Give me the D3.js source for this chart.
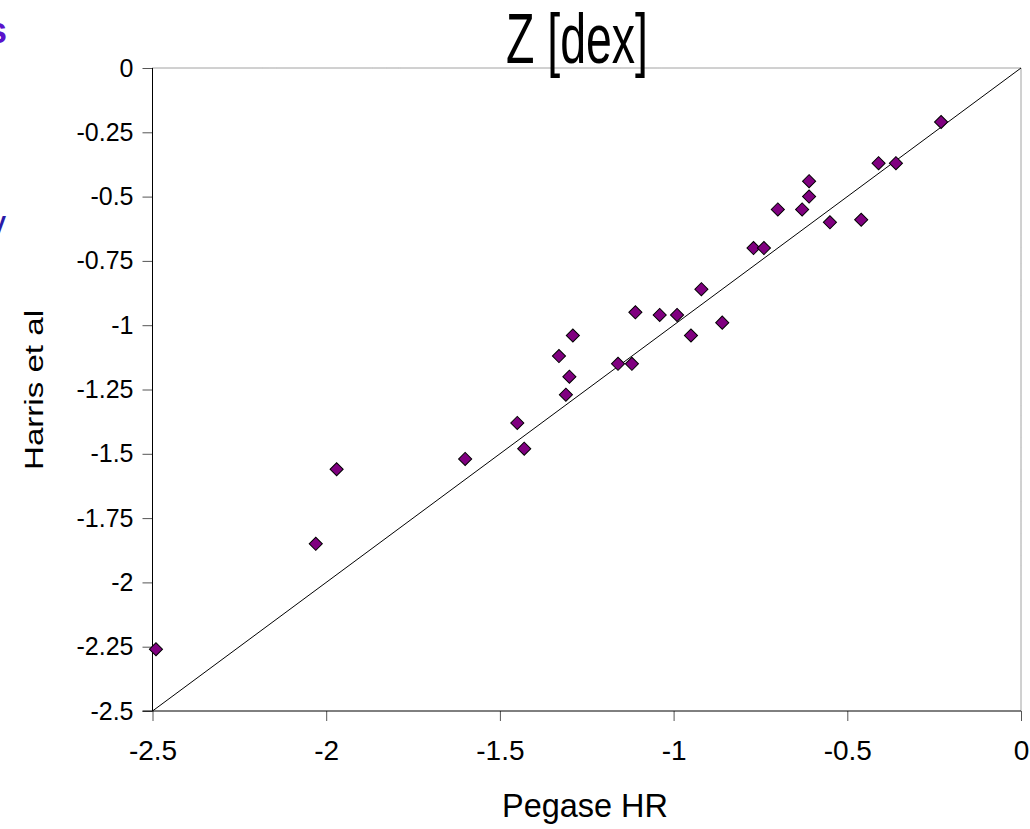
<!DOCTYPE html>
<html>
<head>
<meta charset="utf-8">
<script src="https://cdn.jsdelivr.net/npm/d3@7"></script>
<style>
  body { margin: 0; background: #fff; }
  svg { display: block; font-family: "Liberation Sans", Arial, sans-serif; }
  .axis path { display: none; }
  .axis line { stroke: #555; }
</style>
</head>
<body>
<div id="chart"></div>
<script>
// Pegase HR vs Harris et al metallicities
const pegaseHR = [-2.49, -2.03, -1.97, -1.60, -1.45, -1.43, -1.33, -1.31, -1.30, -1.29,
  -1.16, -1.12, -1.11, -1.04, -0.99, -0.95, -0.92, -0.86, -0.77, -0.74,
  -0.70, -0.63, -0.61, -0.61, -0.55, -0.46, -0.41, -0.36, -0.23];
const harris = [-2.26, -1.85, -1.56, -1.52, -1.38, -1.48, -1.12, -1.27, -1.20, -1.04,
  -1.15, -1.15, -0.95, -0.96, -0.96, -1.04, -0.86, -0.99, -0.70, -0.70,
  -0.55, -0.55, -0.50, -0.44, -0.60, -0.59, -0.37, -0.37, -0.21];
const oneToOne = [-2.5, 0];
const xTicks = [-2.5, -2, -1.5, -1, -0.5, 0];
const yTicks = [0, -0.25, -0.5, -0.75, -1, -1.25, -1.5, -1.75, -2, -2.25, -2.5];

const width = 1030, height = 829;
const margin = { top: 68, right: 9, bottom: 118, left: 152.5 };
const innerW = width - margin.left - margin.right;
const innerH = height - margin.top - margin.bottom;

const svg = d3.select("#chart")
  .append("svg")
  .attr("width", width)
  .attr("height", height);

// bits of neighbouring slide text cut off at the left edge
svg.append("text").attr("x", -13).attr("y", 43)
  .attr("font-size", 36).attr("font-weight", "bold").attr("fill", "#5a12cc").text("s");
svg.append("text").attr("x", -12).attr("y", 236)
  .attr("font-size", 36).attr("fill", "#2a1aa8").text("y");

const g = svg.append("g")
  .attr("transform", `translate(${margin.left},${margin.top})`);

const x = d3.scaleLinear().domain([-2.5, 0]).range([0, innerW]);
const y = d3.scaleLinear().domain([-2.5, 0]).range([innerH, 0]);

// dotted frame on top and right
g.append("path")
  .attr("d", `M0,0H${innerW}V${innerH}`)
  .attr("fill", "none")
  .attr("stroke", "#444")
  .attr("stroke-dasharray", "1,1");

// axes
g.append("g")
  .attr("class", "axis")
  .attr("transform", `translate(0,${innerH})`)
  .call(d3.axisBottom(x).tickValues(xTicks).tickSize(10).tickPadding(19)
    .tickFormat(d => String(d)))
  .call(s => s.selectAll("text").attr("font-size", 28).attr("fill", "#000")
    .attr("font-family", "Liberation Sans, Arial, sans-serif"));

g.append("g")
  .attr("class", "axis")
  .call(d3.axisLeft(y).tickValues(yTicks).tickSize(10).tickPadding(9)
    .tickFormat(d => String(d)))
  .call(s => s.selectAll("text").attr("font-size", 25).attr("fill", "#000")
    .attr("font-family", "Liberation Sans, Arial, sans-serif"));

g.append("line")
  .attr("x1", -10).attr("x2", innerW)
  .attr("y1", innerH).attr("y2", innerH)
  .attr("stroke", "#000");
g.append("line")
  .attr("x1", 0).attr("x2", 0)
  .attr("y1", 0).attr("y2", innerH)
  .attr("stroke", "#000");

// 1:1 line
g.append("line")
  .attr("x1", x(oneToOne[0])).attr("y1", y(oneToOne[0]))
  .attr("x2", x(oneToOne[1])).attr("y2", y(oneToOne[1]))
  .attr("stroke", "#000")
  .attr("stroke-width", 1);

// diamonds
const diamond = d3.symbol(d3.symbolSquare, 86);
g.selectAll(".pt")
  .data(pegaseHR.map((v, i) => ({ px: v, hy: harris[i] })))
  .join("path")
  .attr("class", "pt")
  .attr("d", diamond)
  .attr("transform", d => `translate(${x(d.px)},${y(d.hy)}) rotate(45)`)
  .attr("fill", "#800080")
  .attr("stroke", "#000")
  .attr("stroke-width", 1);

// title and axis labels
svg.append("text")
  .attr("x", 577).attr("y", 63)
  .attr("text-anchor", "middle")
  .attr("font-size", 70)
  .attr("textLength", 142)
  .attr("lengthAdjust", "spacingAndGlyphs")
  .text("Z [dex]");

svg.append("text")
  .attr("x", 585).attr("y", 817)
  .attr("text-anchor", "middle")
  .attr("font-size", 33)
  .attr("textLength", 166)
  .attr("lengthAdjust", "spacingAndGlyphs")
  .text("Pegase HR");

svg.append("text")
  .attr("transform", "translate(43,390) rotate(-90)")
  .attr("text-anchor", "middle")
  .attr("font-size", 25)
  .attr("textLength", 160)
  .attr("lengthAdjust", "spacingAndGlyphs")
  .text("Harris et al");
</script>
</body>
</html>
